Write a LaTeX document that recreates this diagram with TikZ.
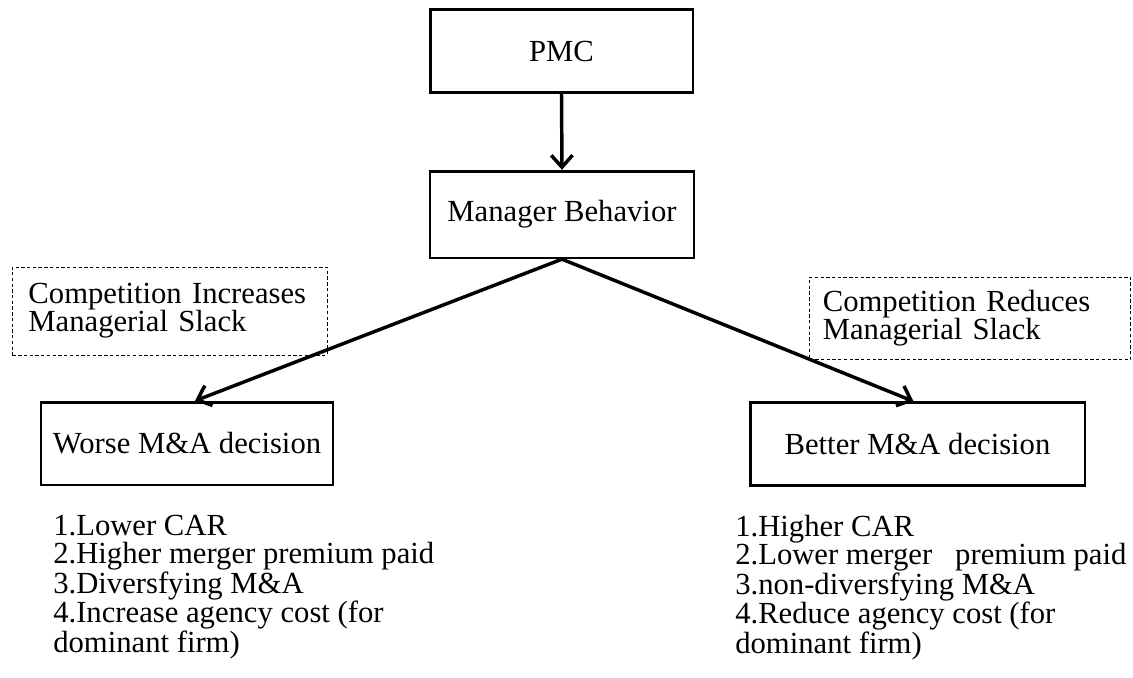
\documentclass[tikz,border=0pt]{standalone}
\usepackage{fontspec}
\setmainfont{Liberation Serif}
\usetikzlibrary{arrows.meta,positioning,calc}

\begin{document}
\begin{tikzpicture}[x=0.75pt,y=-0.75pt,
    every node/.style={font=\fontsize{23}{21}\selectfont},
    box/.style={draw,line width=2pt,inner sep=0pt,minimum height=62pt},
    slackbox/.style={draw,line width=0.7pt,dash pattern=on 2.5pt off 1.8pt,
      anchor=west,align=left,inner ysep=0pt},
    flow/.style={line width=2.6pt,-{Straight Barb[length=9pt,width=16pt]}},
    list/.style={anchor=north west,align=left,inner sep=0pt}]
  \useasboundingbox (0,0) rectangle (1133,678);

  \node[box,minimum width=197pt] (pmc) at (561.5,51) {PMC};
  \node[box,minimum width=198pt,minimum height=65pt] (mgr) at (562,214.5) {Manager Behavior};
  \node[box,minimum width=219pt] (worse) at (187,443.5) {Worse M\&A decision};
  \node[box,minimum width=251pt] (better) at (917.5,444) {Better M\&A decision};

  \node[slackbox,inner xsep=12pt,text width=212pt,minimum height=66pt] (incslack) at (12,311)
    {Competition Increases\\Managerial Slack};
  \node[slackbox,inner xsep=10pt,text width=221pt,minimum height=62pt] (redslack) at (809,318.5)
    {Competition Reduces\\Managerial Slack};

  \draw[flow] (pmc.south) -- (mgr.north);
  \draw[flow] (mgr.south) -- ($(worse.north)+(8,0)$);
  \draw[flow] (mgr.south) -- ($(better.north)+(-4,0)$);

  \node[list] (worselist) at (53,515)
    {1.Lower CAR\\2.Higher merger premium paid\\3.Diversfying M\&A\\4.Increase agency cost (for\\dominant firm)};
  \node[list] (betterlist) at (735,515)
    {1.Higher CAR\\2.Lower merger~~ premium paid\\3.non-diversfying M\&A\\4.Reduce agency cost (for\\dominant firm)};
\end{tikzpicture}
\end{document}
